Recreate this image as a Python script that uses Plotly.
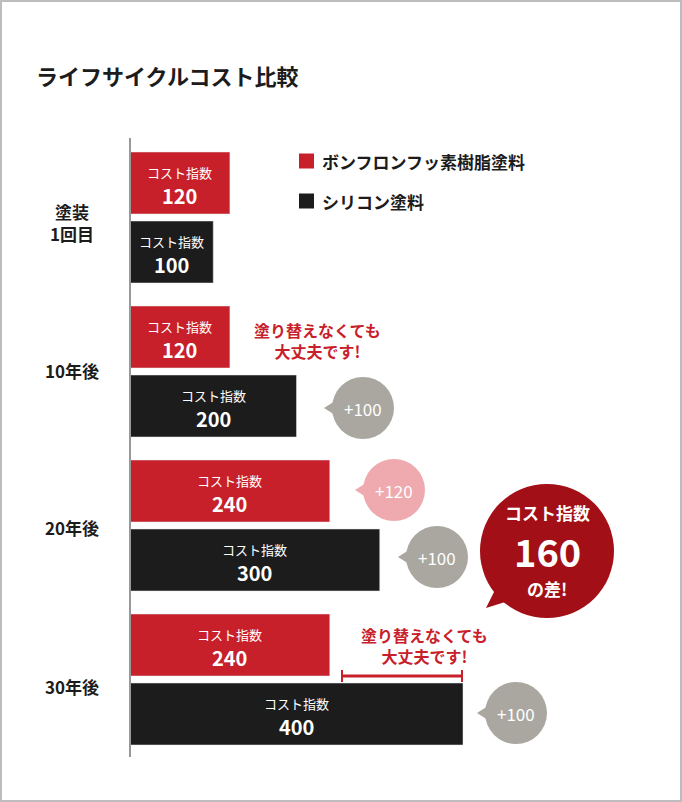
import plotly.graph_objects as go

categories = ["塗装<br>1回目", "10年後", "20年後", "30年後"]
fluoro = [120, 120, 240, 240]
silicone = [100, 200, 300, 400]
series_names = ["ボンフロンフッ素樹脂塗料", "シリコン塗料"]
RED = "#c8202a"; BLACK = "#1c1c1c"; FONT = "Noto Sans CJK JP"

W, H = 682, 802
L = 130
PW = W - L
SCALE = 333 / 400  # px per unit
XMAX = PW / SCALE

pitch = 154
red_y = [183 + pitch * i for i in range(4)]
blk_y = [252 + pitch * i for i in range(4)]

fig = go.Figure()
fig.add_bar(x=fluoro, y=red_y, orientation="h", width=62, marker_color=RED, name=series_names[0], xaxis="x2")
fig.add_bar(x=silicone, y=blk_y, orientation="h", width=62, marker_color=BLACK, name=series_names[1], xaxis="x2")
fig.add_scatter(x=[0, W], y=[0, 0], mode="markers", marker_opacity=0, hoverinfo="skip")

ann = []
shapes = []
for vals, ys in ((fluoro, red_y), (silicone, blk_y)):
    for v, y in zip(vals, ys):
        ann.append(dict(x=v / 2, y=y - 11, xref="x2", yref="y", text="コスト指数", showarrow=False,
                        font=dict(family=FONT, size=13, color="white")))
        ann.append(dict(x=v / 2, y=y + 12, xref="x2", yref="y", text=f"<b>{v}</b>", showarrow=False,
                        font=dict(family=FONT, size=20, color="white")))
cat_y = [222, 370, 527, 686]
for c, y in zip(categories, cat_y):
    ann.append(dict(x=72, y=y, xref="x", yref="y", text=f"<b>{c}</b>", showarrow=False,
                    font=dict(family=FONT, size=17, color="#1c1c1c")))

ann.append(dict(x=34, y=75, xref="x", yref="y", xanchor="left", text="<b>ライフサイクルコスト比較</b>",
                showarrow=False, font=dict(family=FONT, size=22, color="#1c1c1c")))
for i, (nm, col) in enumerate(zip(series_names, [RED, BLACK])):
    yc = 161 + 40 * i
    shapes.append(dict(type="rect", xref="x", yref="y", x0=299, x1=314, y0=yc - 7.5, y1=yc + 7.5, fillcolor=col, line_width=0))
    ann.append(dict(x=320, y=yc, xref="x", yref="y", xanchor="left", text=f"<b>{nm}</b>", showarrow=False,
                    font=dict(family=FONT, size=17, color="#1c1c1c")))

note = "<b>塗り替えなくても<br>大丈夫です!</b>"
for x, y in ((317, 340), (424, 645)):
    ann.append(dict(x=x, y=y, xref="x", yref="y", text=note, showarrow=False,
                    font=dict(family=FONT, size=16, color=RED)))
shapes.append(dict(type="line", xref="x", yref="y", x0=342, x1=462, y0=676, y1=676, line=dict(color=RED, width=3)))
for xx in (342, 462):
    shapes.append(dict(type="line", xref="x", yref="y", x0=xx, x1=xx, y0=670, y1=682, line=dict(color=RED, width=2)))

bubbles = [(363, 408, 31, "#aaa7a1", "+100"), (394, 490, 31, "#eeaaae", "+120"),
           (437, 557, 31, "#aaa7a1", "+100"), (516, 713, 31, "#aaa7a1", "+100")]
for cx, cy, r, col, t in bubbles:
    shapes.append(dict(type="circle", xref="x", yref="y", x0=cx - r, x1=cx + r, y0=cy - r, y1=cy + r, fillcolor=col, line_width=0))
    shapes.append(dict(type="path", xref="x", yref="y", path=f"M {cx-r+3},{cy-7} L {cx-r-8},{cy} L {cx-r+3},{cy+7} Z", fillcolor=col, line_width=0))
    ann.append(dict(x=cx, y=cy, xref="x", yref="y", text=t, showarrow=False, font=dict(family=FONT, size=17, color="white")))

DR = "#a30f16"
shapes.append(dict(type="path", xref="x", yref="y", path="M 500,580 L 486,608 L 525,596 Z", fillcolor=DR, line_width=0))
shapes.append(dict(type="circle", xref="x", yref="y", x0=480, x1=614, y0=484, y1=618, fillcolor=DR, line_width=0))
ann.append(dict(x=547, y=512, xref="x", yref="y", text="<b>コスト指数</b>", showarrow=False, font=dict(family=FONT, size=17, color="white")))
ann.append(dict(x=547, y=550, xref="x", yref="y", text="<b>160</b>", showarrow=False, font=dict(family=FONT, size=38, color="white")))
ann.append(dict(x=547, y=588, xref="x", yref="y", text="<b>の差!</b>", showarrow=False, font=dict(family=FONT, size=17, color="white")))

shapes.append(dict(type="line", xref="x", yref="y", x0=130, x1=130, y0=138, y1=757, line=dict(color="#999", width=2)))
shapes.append(dict(type="rect", xref="x", yref="y", x0=1, x1=W - 1, y0=1, y1=H - 1, line=dict(color="#bdbdbd", width=2)))

fig.update_layout(
    width=W, height=H, margin=dict(l=0, r=0, t=0, b=0), paper_bgcolor="white", plot_bgcolor="white",
    barmode="overlay", showlegend=False,
    xaxis=dict(range=[0, W], domain=[0, 1], visible=False),
    xaxis2=dict(range=[0, XMAX], domain=[L / W, 1], anchor="y", visible=False),
    yaxis=dict(range=[H, 0], visible=False),
    annotations=ann, shapes=shapes,
)
fig.write_html("out.html", config={"displayModeBar": False})
with open("out.html", encoding="utf-8") as f:
    html = f.read()
html = html.replace("<head>", "<head><style>body{margin:0}</style>", 1)
with open("out.html", "w", encoding="utf-8") as f:
    f.write(html)
